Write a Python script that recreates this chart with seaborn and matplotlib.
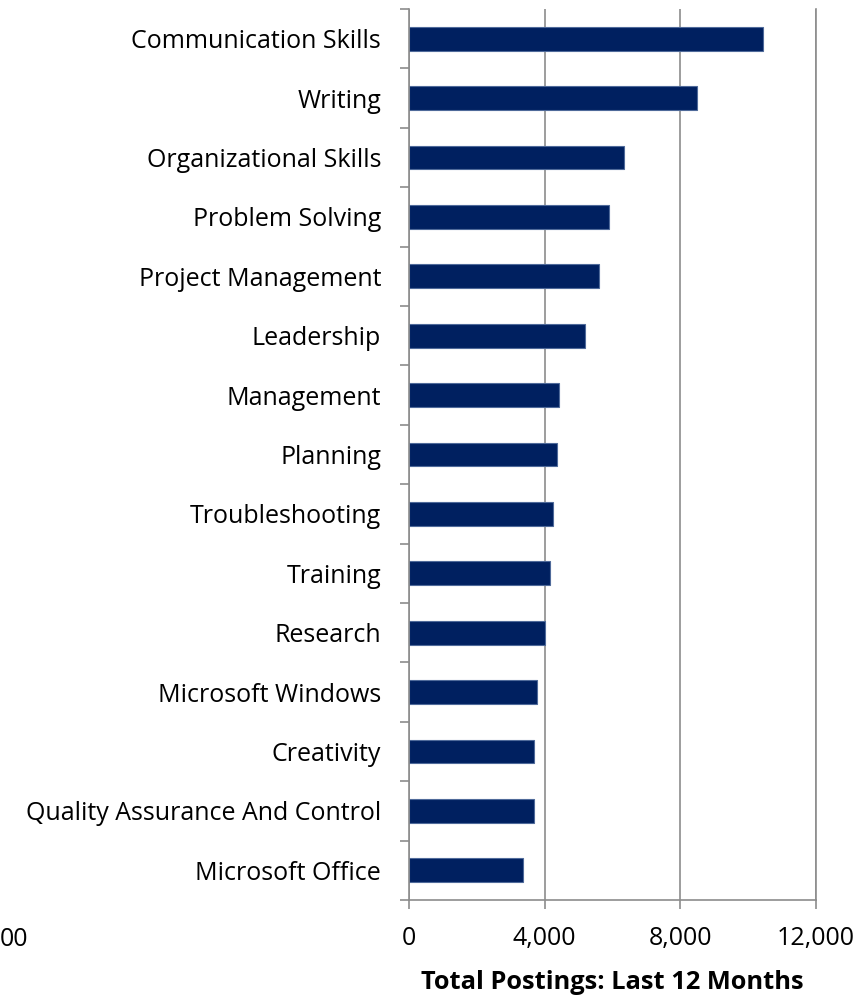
import matplotlib
matplotlib.use("Agg")
import matplotlib.pyplot as plt
import seaborn as sns
import numpy as np
import pandas as pd

categories = [
    "Communication Skills", "Writing", "Organizational Skills", "Problem Solving",
    "Project Management", "Leadership", "Management", "Planning",
    "Troubleshooting", "Training", "Research", "Microsoft Windows",
    "Creativity", "Quality Assurance And Control", "Microsoft Office",
]
postings = [10460, 8490, 6340, 5910, 5600, 5200, 4420, 4360,
            4260, 4170, 4000, 3790, 3700, 3690, 3360]
xticks = [0, 4000, 8000, 12000]
xtick_labels = ["0", "4,000", "8,000", "12,000"]
xlabel = "Total Postings: Last 12 Months"

sns.set_theme(style="white")
plt.rcParams['font.family'] = ['Open Sans', 'DejaVu Sans']

df = pd.DataFrame({"skill": categories, "postings": postings})

fig = plt.figure(figsize=(8.61, 9.98), dpi=100)
ax = fig.add_axes([409/861, 98/998, (815.5-409)/861, (900-9)/998])

grid_c = "#8c8c8c"
sns.barplot(data=df, x="postings", y="skill", orient="h", color="#002060",
            saturation=1, width=0.4, edgecolor="#4f6a9a", linewidth=0.8, ax=ax)

ax.set_xlim(0, 12000)
ax.set_ylim(14.5, -0.5)
ax.set_xticks(xticks)
ax.set_xticklabels(xtick_labels)
ax.xaxis.grid(True, color=grid_c, linewidth=1.2)
ax.yaxis.grid(False)
ax.set_axisbelow(True)

ax.spines["top"].set_visible(False)
for s in ["left", "bottom", "right"]:
    ax.spines[s].set_color(grid_c)
    ax.spines[s].set_linewidth(1.2)

ax.tick_params(axis="x", which="major", length=6.5, width=1.2, color=grid_c,
               pad=12, labelsize=18, labelcolor="black", bottom=True)
ax.set_yticks(np.arange(len(categories)))
ax.set_yticklabels(categories)
ax.set_yticks(np.arange(-0.5, len(categories), 1.0), minor=True)
ax.tick_params(axis="y", which="major", length=0, pad=20, labelsize=18,
               labelcolor="black")
ax.tick_params(axis="y", which="minor", length=6.5, width=1.2, color=grid_c, left=True)

ax.set_ylabel("")
ax.set_xlabel(xlabel, fontsize=18.3, fontweight="bold", labelpad=14, color="black")

fig.text(0.0, 1 - 940/998, "00", fontsize=18, ha="left", va="center", color="black")

fig.savefig("out.png", dpi=100)
